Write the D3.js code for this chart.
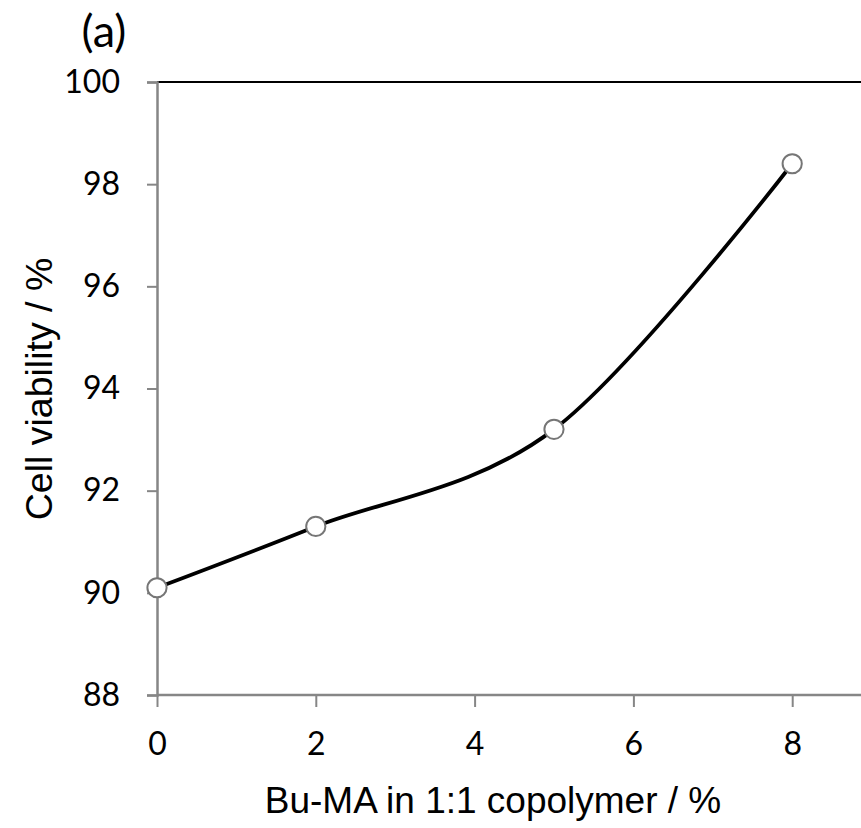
<!DOCTYPE html>
<html>
<head>
<meta charset="utf-8">
<script src="https://cdn.jsdelivr.net/npm/d3@7"></script>
<style>
  body { margin: 0; background: #fff; }
  svg { display: block; }
</style>
</head>
<body>
<div id="chart"></div>
<script>
let width = 861,
  height = 828;

// data
let buma = [0, 2, 5, 8];
let viability = [90.1, 91.3, 93.2, 98.4];
let xTicks = [0, 2, 4, 6, 8];
let yTicks = [88, 90, 92, 94, 96, 98, 100];

let plotLeft = 157, plotTop = 82, plotBottom = 695;
let axisGrey = "#868686";

let svg = d3
  .select("#chart")
  .append("svg")
  .attr("width", width)
  .attr("height", height);

let x = d3.scaleLinear().domain([0, 9]).range([plotLeft, plotLeft + 9 * 79.4]);
let y = d3.scaleLinear().domain([88, 100]).range([plotBottom, plotTop]);

// top border of plot area
svg.append("line")
  .attr("x1", plotLeft).attr("x2", width)
  .attr("y1", y(100)).attr("y2", y(100))
  .attr("stroke", "#000")
  .attr("stroke-width", 2);

// y axis
let yAxis = svg.append("g")
  .attr("transform", "translate(" + plotLeft + ",0)")
  .call(d3.axisLeft(y).tickValues(yTicks).tickSize(10).tickPadding(27).tickFormat(d3.format("d")));

// x axis
let xAxis = svg.append("g")
  .attr("transform", "translate(0," + plotBottom + ")")
  .call(d3.axisBottom(x).tickValues(xTicks).tickSize(12).tickPadding(25).tickFormat(d3.format("d")));

[yAxis, xAxis].forEach(function(g) {
  g.select(".domain").attr("stroke", axisGrey).attr("stroke-width", 2.5);
  g.selectAll(".tick line").attr("stroke", axisGrey).attr("stroke-width", 2);
  g.selectAll(".tick text")
    .attr("fill", "#000")
    .style("font-family", "Lato, 'Open Sans', sans-serif")
    .style("font-size", "32px");
});
// extend x domain line to the edge
xAxis.select(".domain").attr("d", "M" + plotLeft + ",0H" + width);

// curve
let pts = buma.map(function(d, i) { return [d, viability[i]]; });
let line = d3.line()
  .x(function(d) { return x(d[0]); })
  .y(function(d) { return y(d[1]); })
  .curve(d3.curveCatmullRom.alpha(0));

svg.append("path")
  .attr("d", line(pts))
  .attr("fill", "none")
  .attr("stroke", "#000")
  .attr("stroke-width", 3.8);

svg.selectAll("circle")
  .data(pts)
  .enter()
  .append("circle")
  .attr("cx", function(d) { return x(d[0]); })
  .attr("cy", function(d) { return y(d[1]); })
  .attr("r", 9.6)
  .attr("fill", "#fff")
  .attr("stroke", "#767676")
  .attr("stroke-width", 2);

// titles
svg.append("text")
  .attr("x", 104).attr("y", 47)
  .attr("text-anchor", "middle")
  .style("font-family", "Lato, 'Open Sans', sans-serif")
  .style("font-size", "45px")
  .text("(a)");

svg.append("text")
  .attr("transform", "translate(52,389) rotate(-90)")
  .attr("text-anchor", "middle")
  .style("font-family", "'Liberation Sans', Arial, sans-serif")
  .style("font-size", "37.5px")
  .text("Cell viability / %");

svg.append("text")
  .attr("x", 493).attr("y", 813)
  .attr("text-anchor", "middle")
  .style("font-family", "'Liberation Sans', Arial, sans-serif")
  .style("font-size", "37px")
  .text("Bu-MA in 1:1 copolymer / %");
</script>
</body>
</html>
